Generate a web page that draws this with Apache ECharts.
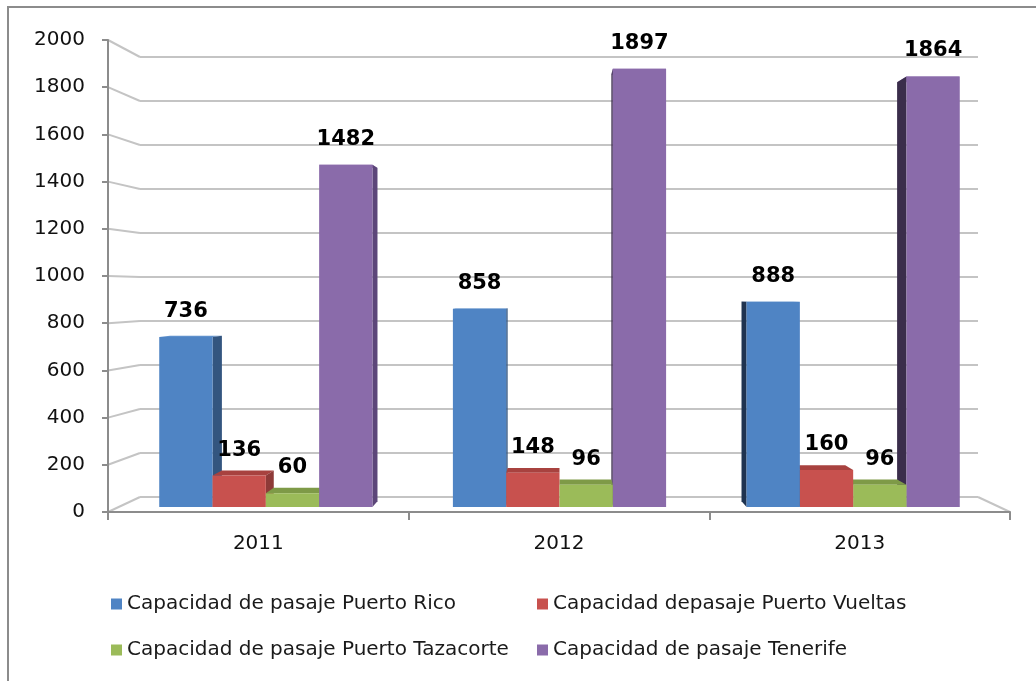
<!DOCTYPE html>
<html>
<head>
<meta charset="utf-8">
<script src="https://cdn.jsdelivr.net/npm/echarts@6/dist/echarts.min.js"></script>
<style>
  html, body { margin: 0; padding: 0; background: #fff; }
  #chart { width: 1036px; height: 681px; }
</style>
</head>
<body>
<div id="chart"></div>
<script>
// data
const years = ['2011', '2012', '2013'];
const puertoRico = [736, 858, 888];
const puertoVueltas = [136, 148, 160];
const puertoTazacorte = [60, 96, 96];
const tenerife = [1482, 1897, 1864];
const yTicks = [0, 200, 400, 600, 800, 1000, 1200, 1400, 1600, 1800, 2000];

const names = [
  'Capacidad de pasaje Puerto Rico',
  'Capacidad depasaje Puerto Vueltas',
  'Capacidad de pasaje Puerto Tazacorte',
  'Capacidad de pasaje Tenerife'
];
const values = [puertoRico, puertoVueltas, puertoTazacorte, tenerife];

// styles
const frontColors = ['#4F84C4', '#C8514E', '#9BBB59', '#8A6BAA'];
const topColors = ['#5E90CC', '#A8423F', '#7E9A47', '#9A7DB8'];
const rightSide = ['#33557F', '#8E3A38', '#6F883F', '#5C4679'];
const leftSide = ['#1F3350', '#6E2B2A', '#55692F', '#3A2D4B'];
const FONT = 'DejaVu Sans';
const BAR_RATIO = 0.1815;
const DEPTH = 0.027;   // perspective depth of the bars
const EYE = 935;       // value at eye level

// layout
const G0 = { left: 108, top: 40, width: 902, height: 472 };  // front axis
const G1 = { left: 119, top: 45, width: 881, height: 462 };  // bars
const G2 = { left: 140, top: 57, width: 838, height: 440 };  // back wall

const chart = echarts.init(document.getElementById('chart'));

function poly(points, fill, z2) {
  return { type: 'polygon', shape: { points: points }, style: { fill: fill }, z2: z2 };
}

function makeRender(i) {
  return function (params, api) {
    const cat = api.value(0);
    const v = api.value(1);
    const band = api.size([1, 0])[0];
    const w = band * BAR_RATIO;
    const c = api.coord([cat, v]);
    const base = api.coord([cat, 0]);
    const vx = api.coord([1, 0])[0];
    const eyeY = api.coord([0, EYE])[1];
    const x0 = c[0] - 2 * w + i * w;
    const x1 = x0 + w;
    const yT = c[1];
    const yB = base[1];
    const back = (x, y) => [x + (vx - x) * DEPTH, y + (eyeY - y) * DEPTH];
    const rightFacing = (x0 + x1) / 2 < vx;
    const rank = rightFacing ? i : 3 - i;
    const sx = rightFacing ? x1 : x0;
    const children = [
      poly([[x0, yT], [x1, yT], back(x1, yT), back(x0, yT)], topColors[i], rank * 3),
      poly([[sx, yT], back(sx, yT), back(sx, yB), [sx, yB]],
        rightFacing ? rightSide[i] : leftSide[i], rank * 3 + 1),
      { type: 'rect', shape: { x: x0, y: yT, width: w, height: yB - yT },
        style: { fill: frontColors[i] }, z2: rank * 3 + 2 },
      { type: 'text', x: (x0 + x1) / 2, y: yT - 15, z2: 100,
        style: { text: String(v), fill: '#000', font: 'bold 21px "' + FONT + '"',
          align: 'center', verticalAlign: 'bottom' } }
    ];
    return { type: 'group', children: children };
  };
}

const series = values.map((arr, i) => ({
  name: names[i],
  type: 'custom',
  xAxisIndex: 1,
  yAxisIndex: 1,
  itemStyle: { color: frontColors[i] },
  renderItem: makeRender(i),
  encode: { x: 0, y: 1 },
  data: arr.map((v, j) => [j, v])
}));

const legendBase = {
  orient: 'vertical',
  icon: 'rect',
  itemWidth: 11,
  itemHeight: 11,
  itemGap: 24,
  itemTextGap: 8,
  padding: 0,
  selectedMode: false,
  textStyle: { fontFamily: FONT, fontSize: 20, color: '#1a1a1a', lineHeight: 22 }
};

chart.setOption({
  animation: false,
  color: frontColors,
  legend: [
    Object.assign({}, legendBase, { left: 111, top: 593, data: [names[0], names[2]] }),
    Object.assign({}, legendBase, { left: 537, top: 593, data: [names[1], names[3]] })
  ],
  grid: [
    Object.assign({ outerBoundsMode: 'none', containLabel: false }, G0),
    Object.assign({ outerBoundsMode: 'none', containLabel: false }, G1),
    Object.assign({ outerBoundsMode: 'none', containLabel: false }, G2)
  ],
  xAxis: [
    {
      gridIndex: 0, type: 'category', data: years, boundaryGap: true,
      axisLine: { lineStyle: { color: '#8c8c8c', width: 2 } },
      axisTick: { show: true, length: 8, lineStyle: { color: '#8c8c8c', width: 2 } },
      axisLabel: { fontFamily: FONT, fontSize: 20, color: '#111', margin: 22 },
      splitLine: { show: false }
    },
    { gridIndex: 1, type: 'category', data: years, show: false },
    { gridIndex: 2, type: 'category', data: years, show: false }
  ],
  yAxis: [
    {
      gridIndex: 0, type: 'value', min: 0, max: 2000, interval: 200,
      axisLine: { show: true, lineStyle: { color: '#8c8c8c', width: 2 } },
      axisTick: { show: true, length: 6, lineStyle: { color: '#8c8c8c', width: 2 } },
      axisLabel: { fontFamily: FONT, fontSize: 20, color: '#111', margin: 23,
        formatter: v => String(v) },
      splitLine: { show: false }
    },
    { gridIndex: 1, type: 'value', min: 0, max: 2000, show: false },
    {
      gridIndex: 2, type: 'value', min: 0, max: 2000, interval: 200,
      axisLine: { show: false }, axisTick: { show: false }, axisLabel: { show: false },
      splitLine: { show: true, lineStyle: { color: '#c4c4c4', width: 2 } }
    }
  ],
  series: series
});

// perspective connectors from the front axis to the back wall
const lines = yTicks.map(v => ({
  type: 'line', silent: true, z: 0,
  shape: {
    x1: G0.left, y1: chart.convertToPixel({ yAxisIndex: 0 }, v),
    x2: G2.left, y2: chart.convertToPixel({ yAxisIndex: 2 }, v)
  },
  style: { stroke: '#c4c4c4', lineWidth: 2 }
}));
lines.push({
  type: 'line', silent: true, z: 0,
  shape: {
    x1: G2.left + G2.width, y1: chart.convertToPixel({ yAxisIndex: 2 }, 0),
    x2: G0.left + G0.width, y2: chart.convertToPixel({ yAxisIndex: 0 }, 0)
  },
  style: { stroke: '#c4c4c4', lineWidth: 2 }
});
lines.push({
  type: 'rect', silent: true, z: 0,
  shape: { x: 8, y: 7, width: 1100, height: 720 },
  style: { fill: 'none', stroke: '#8c8c8c', lineWidth: 2 }
});

chart.setOption({ graphic: lines });
</script>
</body>
</html>
